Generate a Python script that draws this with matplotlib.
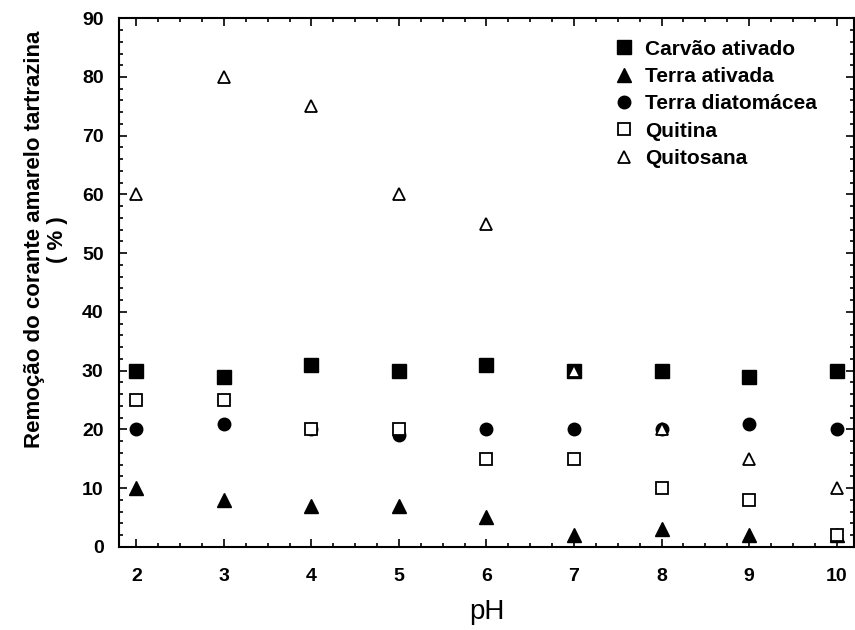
import numpy as np
import matplotlib
matplotlib.use("Agg")
import matplotlib.pyplot as plt
from matplotlib.ticker import MultipleLocator

plt.rcParams['font.family'] = ['Liberation Sans', 'DejaVu Sans']

ph = [2, 3, 4, 5, 6, 7, 8, 9, 10]
carvao = [30, 29, 31, 30, 31, 30, 30, 29, 30]
terra_ativada = [10, 8, 7, 7, 5, 2, 3, 2, 2]
terra_diatomacea = [20, 21, 20, 19, 20, 20, 20, 21, 20]
quitina = [25, 25, 20, 20, 15, 15, 10, 8, 2]
quitosana = [60, 80, 75, 60, 55, 30, 20, 15, 10]

fig = plt.figure(figsize=(8.55, 6.3), dpi=100, facecolor='white')
ax = fig.add_axes([0.139, 0.132, 0.860, 0.839])

ms = 9.5
ax.plot(ph, carvao, 's', color='black', ms=ms, label='Carvão ativado')
ax.plot(ph, terra_ativada, '^', color='black', ms=ms, label='Terra ativada')
ax.plot(ph, terra_diatomacea, 'o', color='black', ms=ms - 0.5, label='Terra diatomácea')
ax.plot(ph, quitina, 's', mfc='white', mec='black', mew=1.3, ms=ms - 0.5, label='Quitina')
ax.plot(ph, quitosana, '^', mfc='white', mec='black', mew=1.3, ms=ms - 0.5, label='Quitosana')

ax.set_xlim(1.8, 10.2)
ax.set_ylim(0, 90)
ax.xaxis.set_major_locator(MultipleLocator(1))
ax.xaxis.set_minor_locator(MultipleLocator(0.25))
ax.yaxis.set_major_locator(MultipleLocator(10))
ax.yaxis.set_minor_locator(MultipleLocator(2))
ax.tick_params(which='both', direction='in', top=True, right=True, width=1.2)
ax.tick_params(which='major', length=6, labelsize=14, pad=11)
ax.tick_params(axis='x', which='major', pad=15)
ax.tick_params(which='minor', length=3)
for lab in ax.get_xticklabels() + ax.get_yticklabels():
    lab.set_fontweight('bold')
for sp in ax.spines.values():
    sp.set_linewidth(1.5)

ax.set_xlabel('pH', fontsize=20, labelpad=10)
fig.text(0.054, 0.62, 'Remoção do corante amarelo tartrazina\n( % )', rotation=90,
         ha='center', va='center', multialignment='center', fontsize=16,
         fontweight='bold', linespacing=1.15)

leg = ax.legend(loc='upper left', bbox_to_anchor=(0.718, 0.937),
                bbox_transform=fig.transFigure, frameon=False, fontsize=15,
                handletextpad=0.5, labelspacing=0.4, borderaxespad=0,
                borderpad=0, handlelength=1.0)
for t in leg.get_texts():
    t.set_fontweight('bold')

fig.savefig('out.png', dpi=100)
